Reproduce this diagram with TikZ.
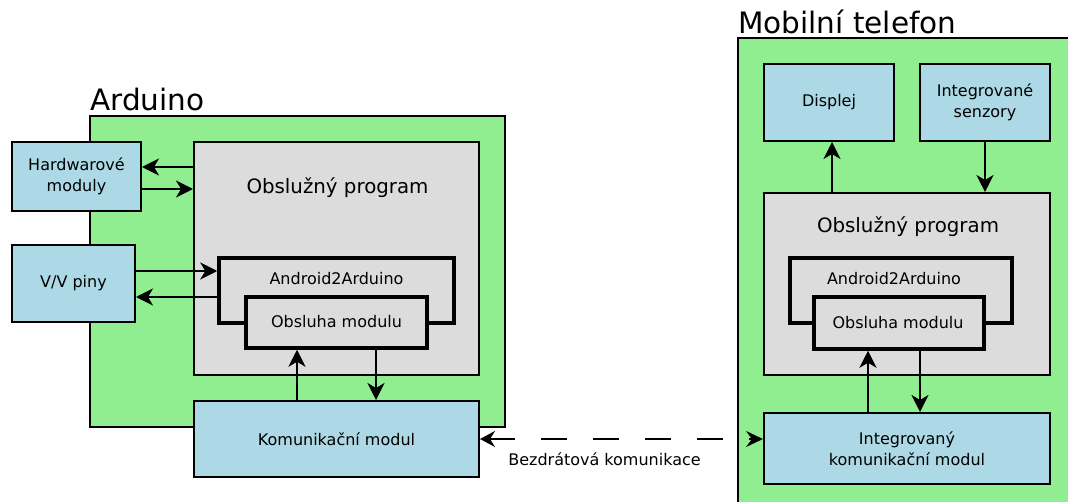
\documentclass[tikz,border=0pt]{standalone}
\usepackage{fontspec}
\setmainfont{DejaVu Sans}
\usetikzlibrary{arrows.meta}
\definecolor{grn}{HTML}{90EE90}
\definecolor{blu}{HTML}{ADD8E6}
\definecolor{gry}{HTML}{DCDCDC}
\begin{document}
\begin{tikzpicture}[x=1pt,y=-1pt,
  bx/.style 2 args={draw, line width=2pt, inner sep=0pt, align=center,
    minimum width=#1pt, minimum height=#2pt, font=\fontsize{16}{20.5}\selectfont},
  green/.style={fill=grn},
  blue/.style={fill=blu},
  gray/.style={fill=gry},
  thickbx/.style={line width=3.5pt},
  txt/.style={inner sep=0pt, font=\fontsize{16}{20.5}\selectfont},
  bigtxt/.style={inner sep=0pt, font=\fontsize{19.8}{24}\selectfont},
  title/.style={inner sep=0pt, font=\fontsize{29.5}{34}\selectfont},
  arr/.style={line width=2pt, -{Stealth[length=17pt,width=17pt,inset=5pt]}},
  darr/.style={line width=2pt, dash pattern=on 26pt off 26pt,
    {Stealth[length=15pt,width=16pt,inset=5pt]}-{Stealth[length=17pt,width=16pt,inset=6pt]}}
]
\useasboundingbox (0,0) rectangle (1068,502);

% ---------- Arduino ----------
\node[bx={415}{311}, green] (ard) at (297.5,271.5) {};
\node[title, anchor=base west] (ardt) at (90,111) {Arduino};
\node[bx={285}{233}, gray] (progL) at (336.5,258.5) {};
\node[bigtxt, anchor=base] (progLt) at (337.5,194) {Obslužný program};
\node[bx={235}{65}, gray, thickbx] (a2aL) at (336.5,290.5) {};
\node[txt, anchor=base] (a2aLt) at (336.5,284.5) {Android2Arduino};
\node[bx={181}{51}, gray, thickbx] (obsL) at (336.5,322.5) {};
\node[txt, anchor=base] (obsLt) at (336.5,328) {Obsluha modulu};
\node[bx={129}{69}, blue] (hw) at (76.5,176.5) {Hardwarové\\moduly};
\node[bx={123}{77}, blue] (vv) at (73.5,283.5) {V/V piny};
\node[bx={285}{76}, blue] (komL) at (336.5,439) {Komunikační modul};

% ---------- Mobilni telefon ----------
\begin{scope}
\clip (0,0) rectangle (1068,502);
\node[bx={352}{492}, green] (mob) at (914,284) {};
\end{scope}
\node[title, anchor=base west] (mobt) at (738,34) {Mobilní telefon};
\node[bx={130}{77}, blue] (disp) at (829,102.5) {Displej};
\node[bx={130}{77}, blue] (sen) at (985,102.5) {Integrované\\senzory};
\node[bx={286}{182}, gray] (progR) at (907,284) {};
\node[bigtxt, anchor=base] (progRt) at (908,233) {Obslužný program};
\node[bx={222}{65}, gray, thickbx] (a2aR) at (901,290.5) {};
\node[txt, anchor=base] (a2aRt) at (894,285) {Android2Arduino};
\node[bx={170}{52}, gray, thickbx] (obsR) at (899,323) {};
\node[txt, anchor=base] (obsRt) at (898,329) {Obsluha modulu};
\node[bx={286}{71}, blue] (komR) at (907,448.5) {Integrovaný\\komunikační modul};

% ---------- Arduino connectors ----------
\coordinate (h1) at ([yshift=9.5pt]hw.east);
\draw[arr] (h1 -| progL.west) -- (h1);
\coordinate (h2) at ([yshift=-12.5pt]hw.east);
\draw[arr] (h2) -- (h2 -| progL.west);
\coordinate (v1) at ([yshift=12.5pt]vv.east);
\draw[arr] (v1) -- (v1 -| a2aL.west);
\coordinate (v2) at ([yshift=-13.5pt]vv.east);
\draw[arr] (v2 -| a2aL.west) -- (v2);
\coordinate (lup) at ([xshift=-39.5pt]obsL.south);
\draw[arr] (lup |- komL.north) -- (lup);
\coordinate (ldn) at ([xshift=39.5pt]obsL.south);
\draw[arr] (ldn) -- (ldn |- komL.north);

% ---------- Phone connectors ----------
\coordinate (dup) at ([xshift=3pt]disp.south);
\draw[arr] (dup |- progR.north) -- (dup);
\draw[arr] (sen.south) -- (sen.south |- progR.north);
\coordinate (rup) at ([xshift=-31pt]obsR.south);
\draw[arr] (rup |- komR.north) -- (rup);
\coordinate (rdn) at ([xshift=21pt]obsR.south);
\draw[arr] (rdn) -- (rdn |- komR.north);

% ---------- Wireless ----------
\draw[darr] (komL.east) -- (komL.east -| komR.west);
\node[txt, anchor=base] (bez) at (604.5,465) {Bezdrátová komunikace};
\end{tikzpicture}
\end{document}
